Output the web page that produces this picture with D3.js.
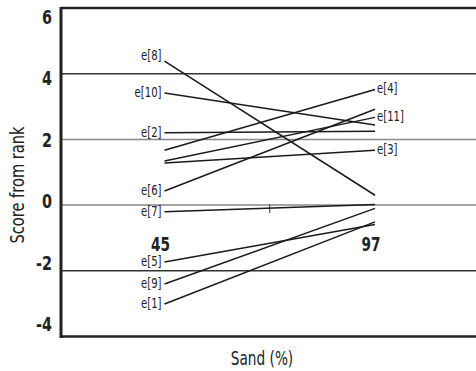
<!DOCTYPE html>
<html><head><meta charset="utf-8">
<script src="https://cdn.jsdelivr.net/npm/d3@7"></script>
<style>body{margin:0;background:#fff}svg{display:block}text{font-family:"DejaVu Sans",sans-serif}</style>
</head><body>
<script>
const names = ["e[1]","e[2]","e[3]","e[4]","e[5]","e[6]","e[7]","e[8]","e[9]","e[10]","e[11]"];
const sandLevels = [45, 97];
const scoreAt45 = [-3.01, 2.20, 1.28, 1.67, -1.73, 0.43, -0.20, 4.38, -2.40, 3.41, 1.34];
const scoreAt97 = [-0.51, 2.25, 1.67, 3.52, -0.59, 2.92, 0.02, 0.30, -0.10, 2.44, 2.67];
const labelSide = ["left","left","right","right","left","left","left","left","left","left","right"];
const yTicks = [-4, -2, 0, 2, 4, 6];
const gridValues = [-2, 0, 2, 4];
const midTick = [71];

const W = 476, H = 371;
const SX = 0.72; // condense text horizontally
const svg = d3.select("body").append("svg").attr("width", W).attr("height", H);
const x = d3.scaleLinear().domain([45, 97]).range([164.5, 375]);
const y = d3.scaleLinear().domain([-4, 6]).range([336.5, 8]);
const yLab = d3.scaleLinear().domain([-4, 6]).range([324, 17]);

// grid lines
svg.selectAll(".grid").data(gridValues).enter().append("line")
  .attr("x1", 61).attr("x2", W).attr("y1", d => y(d)).attr("y2", d => y(d))
  .attr("stroke", d => (d === 4 || d === -2) ? "#333" : "#888").attr("stroke-width", 1.5);

// mid tick on zero line
svg.selectAll(".mt").data(midTick).enter().append("line")
  .attr("x1", d => x(d)).attr("x2", d => x(d)).attr("y1", y(0) - 1).attr("y2", y(0) + 8)
  .attr("stroke", "#333").attr("stroke-width", 1);

// frame
svg.append("line").attr("x1", 61).attr("x2", W).attr("y1", 8).attr("y2", 8).attr("stroke", "#222").attr("stroke-width", 2.5);
svg.append("line").attr("x1", 61).attr("x2", W).attr("y1", 336.5).attr("y2", 336.5).attr("stroke", "#222").attr("stroke-width", 2.5);
svg.append("line").attr("x1", 61).attr("x2", 61).attr("y1", 7).attr("y2", 338).attr("stroke", "#222").attr("stroke-width", 3);

// y tick labels
svg.selectAll(".yt").data(yTicks).enter().append("text")
  .attr("transform", d => `translate(52,${yLab(d)}) scale(${SX},1)`)
  .attr("dy", "0.35em").attr("text-anchor", "end")
  .attr("font-size", 20).attr("font-weight", "bold").attr("fill", "#222").text(d => d);

// lines
const data = names.map((n, i) => ({name: n, a: scoreAt45[i], b: scoreAt97[i], side: labelSide[i]}));
svg.selectAll(".ln").data(data).enter().append("line")
  .attr("x1", x(sandLevels[0])).attr("x2", x(sandLevels[1]))
  .attr("y1", d => y(d.a)).attr("y2", d => y(d.b))
  .attr("stroke", "#1a1a1a").attr("stroke-width", 1.5);

// labels
svg.selectAll(".lb").data(data).enter().append("text")
  .attr("transform", d => {
    const tx = d.side === "left" ? x(sandLevels[0]) - 3 : x(sandLevels[1]) + 2;
    const ty = d.side === "left" ? y(d.a) - (d.name === "e[8]" ? 6 : 1) : y(d.b) - 1;
    return `translate(${tx},${ty}) scale(${SX},1)`;
  })
  .attr("dy", "0.35em")
  .attr("text-anchor", d => d.side === "left" ? "end" : "start")
  .attr("font-size", 14).attr("fill", "#222").text(d => d.name);

// x level labels
svg.selectAll(".xl").data(sandLevels).enter().append("text")
  .attr("transform", d => `translate(${x(d) - 4},${y(-1.2)}) scale(${SX},1)`)
  .attr("dy", "0.35em").attr("text-anchor", "middle")
  .attr("font-size", 19).attr("font-weight", "bold").attr("fill", "#222").text(d => d);

// axis titles
svg.append("text").attr("transform", `translate(262,365) scale(${SX},1)`).attr("text-anchor", "middle")
  .attr("font-size", 19).attr("fill", "#222").text("Sand (%)");
svg.append("text").attr("transform", `translate(24,185) rotate(-90) scale(${SX + 0.05},1)`).attr("text-anchor", "middle")
  .attr("font-size", 19).attr("fill", "#222").text("Score from rank");
</script>
</body></html>
